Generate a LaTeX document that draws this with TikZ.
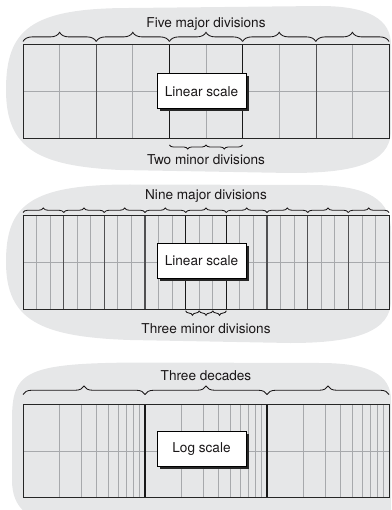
\documentclass[tikz,border=0pt]{standalone}
\usepackage{fontspec}
\setmainfont{TeX Gyre Heros}
\usetikzlibrary{decorations.pathreplacing,shadows}
\definecolor{bg}{HTML}{E6E7E8}
\definecolor{txt}{HTML}{1A1718}
\definecolor{minorc}{HTML}{A7A9AC}
\definecolor{majorc}{HTML}{505052}
\begin{document}
\begin{tikzpicture}[x=1pt,y=-1pt,
  minorline/.style={draw=minorc,line width=0.8pt},
  majorline/.style={draw=majorc,line width=1.1pt},
  keyline/.style={draw=black!90,line width=1.1pt},
  frame/.style={draw=black!85,line width=1pt},
  bracetop/.style={decorate,decoration={brace,amplitude=#1},draw=txt,line width=0.85pt},
  bracebot/.style={decorate,decoration={brace,mirror,amplitude=#1},draw=txt,line width=0.85pt},
  lbl/.style={font=\fontsize{13.6}{16}\selectfont,text=txt,anchor=base,inner sep=0pt},
  scalebox/.style={draw=black,line width=0.8pt,fill=white,minimum width=89pt,minimum height=35pt,inner sep=0pt,font=\fontsize{13.6}{16}\selectfont,text=txt,drop shadow={shadow xshift=2.5pt,shadow yshift=-2.5pt,fill=black!85,opacity=1}}]
\useasboundingbox (0,0) rectangle (391,510);
\clip (0,0) rectangle (391,510);

% ---------- backgrounds ----------
\fill[bg] (130,8) .. controls (30,8) and (6,30) .. (6,90) .. controls (6,150) and (40,166) .. (120,170) -- (290,173) .. controls (350,173) and (391,165) .. (391,130) -- (391,45) .. controls (391,20) and (370,6) .. (320,6) -- cycle;
\fill[bg] (130,184.5) .. controls (30,184.5) and (6,205) .. (6,262) .. controls (6,320) and (40,337) .. (130,340) -- (290,343) .. controls (355,343) and (391,332) .. (391,300) -- (391,232) .. controls (391,200) and (370,185) .. (310,185) -- cycle;
\fill[bg] (150,362.5) .. controls (25,362.5) and (12,370) .. (12,420) -- (12,480) .. controls (12,510) and (30,520) .. (60,525) -- (391,525) -- (391,400) .. controls (391,375) and (370,363) .. (320,363) -- cycle;

% ---------- panel 1 ----------
\foreach \i in {0,...,4} \draw[minorline] ({23+73.2*\i+36.6},45) -- ++(0,93.3);
\draw[minorline] (23,91.7) -- (389,91.7);
\foreach \x in {96.2,316.6} \draw[majorline] (\x,45) -- (\x,138.3);
\foreach \x in {169.4,242.6} \draw[keyline] (\x,45) -- (\x,138.3);
\draw[frame] (23,45) rectangle (389,138.3);
\foreach \i in {0,...,4} \draw[bracetop=9.2pt] ({23+73.2*\i},41.5) -- ({23+73.2*(\i+1)},41.5);
\foreach \i in {0,1} \draw[bracebot=4pt] ({169.4+36.6*\i},145) -- ({169.4+36.6*(\i+1)},145);
\node[lbl] (t1) at (206,27.3) {Five major divisions};
\node[lbl] (b1) at (206,165) {Two minor divisions};
\node[scalebox] (s1) at (201.5,91.3) {Linear scale};

% ---------- panel 2 ----------
\foreach \i in {0,...,8} \foreach \j in {1,2} \draw[minorline] ({23+40.667*\i+13.556*\j},215.5) -- ++(0,93.8);
\draw[minorline] (23,262.5) -- (389,262.5);
\foreach \i in {1,2,3,6,7,8} \draw[majorline] ({23+40.667*\i},215.5) -- ++(0,93.8);
\foreach \i in {4,5} \draw[keyline] ({23+40.667*\i},215.5) -- ++(0,93.8);
\draw[frame] (23,215.5) rectangle (389,309.3);
\foreach \i in {0,...,8} \draw[bracetop=4.5pt] ({23+40.667*\i},212.5) -- ({23+40.667*(\i+1)},212.5);
\foreach \i in {0,1,2} \draw[bracebot=4.5pt] ({185.67+13.556*\i},310.8) -- ({185.67+13.556*(\i+1)},310.8);
\node[lbl] (t2) at (206,200) {Nine major divisions};
\node[lbl] (b2) at (206,333) {Three minor divisions};
\node[scalebox] (s2) at (201.5,260.5) {Linear scale};

% ---------- panel 3 ----------
\foreach \d in {0,1,2} \foreach \k in {2,...,9} \draw[minorline] ({23+122*\d+122*ln(\k)/ln(10)},404) -- ++(0,93.3);
\draw[minorline] (23,451) -- (389,451);
\foreach \x in {145,267} \draw[keyline] (\x,404) -- (\x,497.3);
\draw[frame] (23,404) rectangle (389,497.3);
\foreach \d in {0,1,2} \draw[bracetop=8.5pt] ({23+122*\d},394.5) -- ({23+122*(\d+1)},394.5);
\node[lbl] (t3) at (206,380.5) {Three decades};
\node[scalebox] (s3) at (201.5,448.7) {Log scale};
\end{tikzpicture}
\end{document}
